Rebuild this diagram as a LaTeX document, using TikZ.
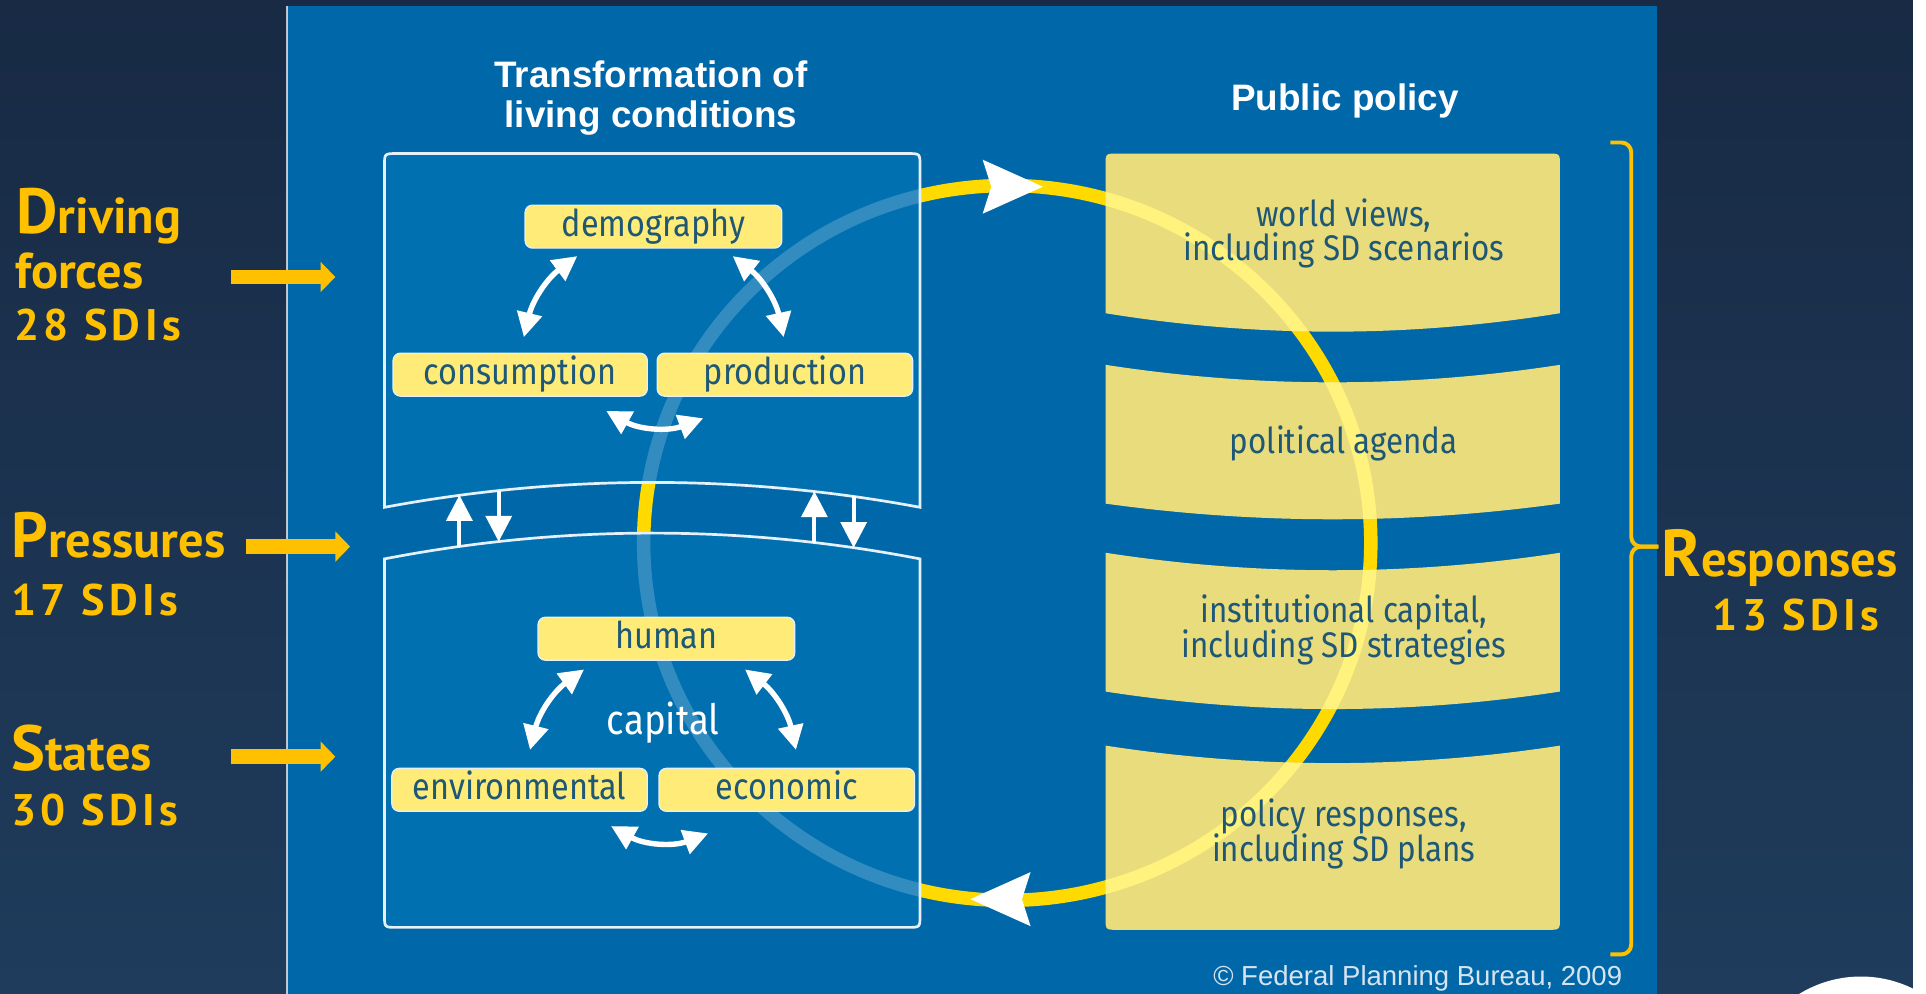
\documentclass[tikz,border=0pt]{standalone}
\usepackage{fontspec}
\setmainfont{Liberation Sans}
\newfontfamily\boxfont[FakeStretch=0.88]{Fira Sans}
\newfontfamily\lblfont{PT Sans}
\newfontfamily\numfont[LetterSpace=10]{PT Sans}
\usetikzlibrary{arrows.meta,calc}
\definecolor{bgtop}{RGB}{24,42,68}
\definecolor{bgbot}{RGB}{31,60,92}
\definecolor{panel}{RGB}{0,104,168}
\definecolor{inbox}{RGB}{0,112,177}
\definecolor{ynode}{RGB}{255,235,120}
\definecolor{ntext}{RGB}{30,88,118}
\definecolor{khaki}{RGB}{232,220,125}
\definecolor{cyc}{RGB}{255,218,0}
\definecolor{cyclight}{RGB}{255,242,125}
\definecolor{orng}{RGB}{255,192,0}
\definecolor{copyc}{RGB}{215,228,240}
\definecolor{bord}{RGB}{228,240,250}

\newcommand\pathTopBox{(313,-413) -- (313,-135) .. controls (313,-125) .. (323,-125) -- (739,-125) .. controls (749,-125) .. (749,-135) -- (749,-413) .. controls (604,-386) and (458,-386) .. cycle}
\newcommand\pathBotBox{(313,-455) .. controls (458,-427) and (604,-427) .. (749,-455) -- (749,-745) .. controls (749,-755) .. (739,-755) -- (323,-755) .. controls (313,-755) .. (313,-745) -- cycle}
\newcommand\pathPolA{(900,-255) -- (900,-135) .. controls (900,-125) .. (910,-125) -- (1260,-125) .. controls (1270,-125) .. (1270,-135) -- (1270,-255) .. controls (1146.7,-275) and (1023.3,-275) .. cycle}
\newcommand\pathPolB{(900,-297) .. controls (1023.3,-316) and (1146.7,-316) .. (1270,-297) -- (1270,-410) .. controls (1146.7,-427) and (1023.3,-427) .. (900,-410) -- cycle}
\newcommand\pathPolC{(900,-450) .. controls (1023.3,-469) and (1146.7,-469) .. (1270,-450) -- (1270,-563) .. controls (1146.7,-582) and (1023.3,-582) .. (900,-563) -- cycle}
\newcommand\pathPolD{(900,-607) .. controls (1023.3,-626) and (1146.7,-626) .. (1270,-607) -- (1270,-747) .. controls (1270,-757) .. (1260,-757) -- (910,-757) .. controls (900,-757) .. (900,-747) -- cycle}
\newcommand\pathCycle{(820,-442) ellipse [x radius=296, y radius=291]}

\begin{document}
\begin{tikzpicture}[x=0.5pt,y=0.5pt,
  ybox/.style={draw=bord, line width=0.5pt, fill=ynode, rounded corners=3pt,
    minimum height=17.5pt, minimum width=104pt, inner sep=0pt,
    text height=10pt, text depth=2pt,
    font=\boxfont\fontsize{15}{16}\selectfont, text=ntext},
  ptext/.style={font=\boxfont\fontsize{14.5}{16}\selectfont, text=ntext, inner sep=0pt, anchor=base},
  ttl/.style={font=\bfseries\fontsize{15}{18}\selectfont, text=white, inner sep=0pt, anchor=base},
  lbl/.style={font=\lblfont\bfseries\fontsize{20.5}{22}\selectfont, text=orng, inner sep=0pt, anchor=base west},
  num/.style={font=\numfont\bfseries\fontsize{18}{20}\selectfont, text=orng, inner sep=0pt, anchor=base west},
  warr/.style={draw=white, line width=2.2pt, <->, >={Triangle[length=10pt,width=10pt]}},
  garr/.style={draw=white, line width=1.6pt, -{Triangle[length=10.5pt,width=10.5pt]}},
  oarr/.style={draw=orng, line width=6pt, -{Triangle[length=6pt,width=12pt]}},
  cycline/.style={line width=5.5pt},
]
\useasboundingbox (0,0) rectangle (1568,-809);
\clip (0,0) rectangle (1568,-809);
\shade[top color=bgtop, bottom color=bgbot] (0,0) rectangle (1568,-809);
\fill[white] (1557,0) rectangle (1568,-809);
\fill[white] (1515,-891) circle [radius=96];

% panel
\fill[panel] (233.5,-5) rectangle (1349,-809);
\draw[white, opacity=0.7, line width=0.7pt] (233.5,-5) -- (233.5,-809);

% cycle (base)
\draw[cyc, cycline] \pathCycle;

% left boxes
\fill[inbox] \pathTopBox;
\fill[inbox] \pathBotBox;
\begin{scope}
  \clip \pathTopBox \pathBotBox;
  \draw[white, opacity=0.2, cycline] \pathCycle;
\end{scope}
\draw[bord, line width=1.1pt] \pathTopBox;
\draw[bord, line width=1.1pt] \pathBotBox;

% policy boxes
\fill[khaki] \pathPolA;
\fill[khaki] \pathPolB;
\fill[khaki] \pathPolC;
\fill[khaki] \pathPolD;
\begin{scope}
  \clip \pathPolA \pathPolB \pathPolC \pathPolD;
  \draw[cyclight, cycline] \pathCycle;
\end{scope}

% cycle arrowheads
\fill[white] (849,-152) -- (800,-130) -- (807,-152) -- (800,-174) -- cycle;
\fill[white] (790,-732) -- (839,-710) -- (832,-732) -- (839,-754) -- cycle;

% titles
\node[ttl] (t1) at (530,-71) {Transformation of};
\node[ttl] (t2) at (530,-104) {living conditions};
\node[ttl] (t3) at (1095,-90) {Public policy};

% upper triangle
\node[ybox, minimum width=104.5pt] (demo) at (532,-184.5) {demography};
\node[ybox, minimum width=103.5pt] (cons) at (423.5,-305) {consumption};
\node[ybox] (prod) at (639,-305) {production};
\draw[warr] ([xshift=21.5pt,yshift=-3pt]demo.south west) to[bend right=20] ([xshift=53.5pt,yshift=6.25pt]cons.north west);
\draw[warr] ([xshift=-20.25pt,yshift=-3pt]demo.south east) to[bend left=20] ([xshift=-0.5pt,yshift=6.25pt]prod.north);
\draw[warr] ([xshift=-17pt,yshift=-5.75pt]cons.south east) to[bend right=25] ([xshift=19pt,yshift=-8.75pt]prod.south west);

% lower triangle
\node[ybox, minimum width=104.5pt] (human) at (542.5,-520) {human};
\node[ybox] (env) at (423,-643) {environmental};
\node[ybox] (econ) at (640.5,-643) {economic};
\node[font=\boxfont\fontsize{17}{20}\selectfont, text=white, inner sep=0pt, anchor=base] (cap) at (540,-598) {capital};
\draw[warr] ([xshift=19pt,yshift=-3.5pt]human.south west) to[bend right=20] ([xshift=56.5pt,yshift=7.25pt]env.north west);
\draw[warr] ([xshift=-20.5pt,yshift=-3.5pt]human.south east) to[bend left=20] ([xshift=3.75pt,yshift=7.25pt]econ.north);
\draw[warr] ([xshift=-15pt,yshift=-5.75pt]env.south east) to[bend right=25] ([xshift=20.25pt,yshift=-8.75pt]econ.south west);

% gap arrows
\coordinate (g1b) at (374,-445); \coordinate (g1t) at (374,-403);
\coordinate (g2t) at (406,-400); \coordinate (g2b) at (406,-441);
\coordinate (g3b) at (663,-442); \coordinate (g3t) at (663,-400);
\coordinate (g4t) at (695,-404); \coordinate (g4b) at (695,-446);
\draw[garr] (g1b) -- (g1t);
\draw[garr] (g2t) -- (g2b);
\draw[garr] (g3b) -- (g3t);
\draw[garr] (g4t) -- (g4b);

% policy texts
\node[ptext] (pa1) at (1094,-184) {world views,};
\node[ptext] (pa2) at (1094,-212) {including SD scenarios};
\node[ptext] (pb1) at (1094,-369) {political agenda};
\node[ptext] (pc1) at (1094,-507) {institutional capital,};
\node[ptext] (pc2) at (1094,-535) {including SD strategies};
\node[ptext] (pd1) at (1094,-673) {policy responses,};
\node[ptext] (pd2) at (1094,-701) {including SD plans};

% copyright
\node[font=\fontsize{11.2}{13}\selectfont, text=copyc, inner sep=0pt, anchor=base east] (copy) at (1321,-802) {\textcopyright{} Federal Planning Bureau, 2009};

% bracket
\draw[orng, line width=1.6pt, rounded corners=4pt] (1311,-116) -- (1328,-116) -- (1328,-445) -- (1350,-445);
\draw[orng, line width=1.6pt, rounded corners=4pt] (1350,-445) -- (1328,-445) -- (1328,-777) -- (1311,-777);

% left labels
\node[lbl] (dr1) at (13,-190) {{\fontsize{26}{26}\selectfont D}riving};
\node[lbl] (dr2) at (12,-235) {forces};
\node[num] (dr3) at (11,-277) {28 SDIs};
\node[lbl] (pr1) at (9,-454) {{\fontsize{26}{26}\selectfont P}ressures};
\node[num] (pr2) at (9,-501) {17 SDIs};
\node[lbl] (st1) at (9,-627) {{\fontsize{26}{26}\selectfont S}tates};
\node[num] (st2) at (9,-672) {30 SDIs};
\node[lbl] (re1) at (1352,-469) {{\fontsize{27}{27}\selectfont R}esponses};
\node[num] (re2) at (1394,-513) {13 SDIs};

% orange arrows
\coordinate (o1s) at (188,-225.5); \coordinate (o1e) at (273,-225.5);
\coordinate (o2s) at (200,-445);   \coordinate (o2e) at (285,-445);
\coordinate (o3s) at (188,-616);   \coordinate (o3e) at (273,-616);
\draw[oarr] (o1s) -- (o1e);
\draw[oarr] (o2s) -- (o2e);
\draw[oarr] (o3s) -- (o3e);
\end{tikzpicture}
\end{document}
